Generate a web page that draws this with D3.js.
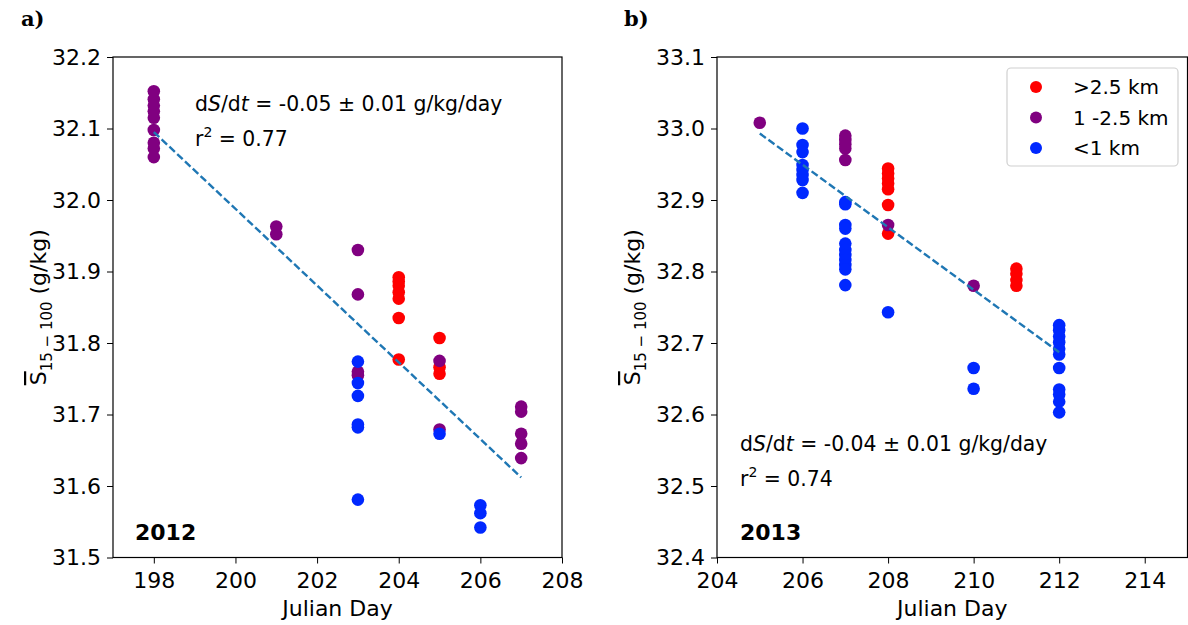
<!DOCTYPE html>
<html><head><meta charset="utf-8">
<script src="https://cdn.jsdelivr.net/npm/d3@7"></script>
<style>body{margin:0;background:#fff;} text{font-family:"DejaVu Sans",sans-serif;}</style>
</head><body><svg id="c" width="1188" height="625"></svg>
<script>
// ---- Data: panel a (2012) ----
const aRed = [[204,31.892],[204,31.886],[204,31.880],[204,31.871],[204,31.862],[204,31.835],[204,31.777],
              [205,31.807],[205,31.766],[205,31.757]];
const aPurple = [[198,32.152],[198,32.141],[198,32.132],[198,32.124],[198,32.115],[198,32.098],[198,32.080],[198,32.072],[198,32.060],
                 [201,31.963],[201,31.952],
                 [203,31.930],[203,31.868],[203,31.760],[203,31.755],
                 [205,31.775],[205,31.679],
                 [207,31.711],[207,31.704],[207,31.673],[207,31.659],[207,31.639]];
const aBlue = [[203,31.774],[203,31.744],[203,31.726],[203,31.686],[203,31.682],[203,31.581],
               [205,31.673],
               [206,31.573],[206,31.562],[206,31.542]];
const aFitDay = [198, 207];
const aFitVal = [32.095, 31.612];
// ---- Data: panel b (2013) ----
const bRed = [[208,32.944],[208,32.937],[208,32.930],[208,32.923],[208,32.915],[208,32.893],[208,32.853],
              [211,32.804],[211,32.797],[211,32.788],[211,32.780]];
const bPurple = [[205,33.008],
                 [207,32.990],[207,32.984],[207,32.978],[207,32.972],[207,32.956],
                 [208,32.865],
                 [210,32.780]];
const bBlue = [[206,33.000],[206,32.977],[206,32.967],[206,32.949],[206,32.942],[206,32.935],[206,32.928],[206,32.910],
               [207,32.897],[207,32.894],[207,32.865],[207,32.860],[207,32.839],[207,32.830],[207,32.823],[207,32.816],[207,32.809],[207,32.803],[207,32.781],
               [208,32.743],
               [210,32.665],[210,32.636],
               [212,32.725],[212,32.718],[212,32.709],[212,32.701],[212,32.692],[212,32.684],[212,32.665],[212,32.635],[212,32.628],[212,32.618],[212,32.603]];
const bFitDay = [205, 212];
const bFitVal = [32.993, 32.687];
// ---- Ticks / labels ----
const aXTicks = [198,200,202,204,206,208];
const aYTicks = [31.5,31.6,31.7,31.8,31.9,32.0,32.1,32.2];
const bXTicks = [204,206,208,210,212,214];
const bYTicks = [32.4,32.5,32.6,32.7,32.8,32.9,33.0,33.1];
const legendLabels = [">2.5 km","1 -2.5 km","<1 km"];
const colors = ["#ff0000","#800080","#0028ff"];

const svg = d3.select("#c");

function panel(o){
  const x = d3.scaleLinear().domain(o.xdom).range([o.x0,o.x1]);
  const y = d3.scaleLinear().domain(o.ydom).range([o.y1,o.y0]);
  const g = svg.append("g");
  const xa = g.append("g").attr("transform",`translate(0,${o.y1})`)
    .call(d3.axisBottom(x).tickValues(o.xt).tickFormat(d3.format("d")).tickSize(6).tickPadding(4));
  const ya = g.append("g").attr("transform",`translate(${o.x0},0)`)
    .call(d3.axisLeft(y).tickValues(o.yt).tickFormat(d3.format(".1f")).tickSize(6).tickPadding(6));
  [xa,ya].forEach(a=>{a.select(".domain").remove();
    a.selectAll("text").attr("font-size",22).attr("fill","#000").style("font-family","DejaVu Sans");
    a.selectAll("line").attr("stroke","#000").attr("stroke-width",1);});
  xa.selectAll("text").attr("dy","0.95em");
  g.append("rect").attr("x",o.x0).attr("y",o.y0).attr("width",o.x1-o.x0).attr("height",o.y1-o.y0)
    .attr("fill","none").attr("stroke","#000").attr("stroke-width",1.2);
  const groups=[o.red,o.purple,o.blue];
  groups.forEach((pts,i)=>{
    g.append("g").selectAll("circle").data(pts).join("circle")
      .attr("cx",d=>x(d[0])).attr("cy",d=>y(d[1])).attr("r",6.3).attr("fill",colors[i]);
  });
  const fit = o.fitDay.map((d,i)=>[d,o.fitVal[i]]);
  g.append("path").attr("d",d3.line().x(d=>x(d[0])).y(d=>y(d[1]))(fit))
    .attr("fill","none").attr("stroke","#1f77b4").attr("stroke-width",2.4).attr("stroke-dasharray","7.5,3.2");
  // annotation
  const t1 = g.append("text").attr("x",o.ax).attr("y",o.ay).attr("font-size",20.4).attr("fill","#000");
  t1.append("tspan").text("d");
  t1.append("tspan").attr("font-style","italic").text("S");
  t1.append("tspan").text("/d");
  t1.append("tspan").attr("font-style","italic").text("t");
  t1.append("tspan").text(` = ${o.slope} ± 0.01 g/kg/day`);
  const t2 = g.append("text").attr("x",o.ax).attr("y",o.ay+35).attr("font-size",20.4).attr("fill","#000");
  t2.append("tspan").text("r");
  t2.append("tspan").attr("font-size",14).attr("dy",-9).text("2");
  t2.append("tspan").attr("dy",9).text(` = ${o.r2}`);
  g.append("text").attr("x",o.yx).attr("y",540).attr("font-size",22).attr("font-weight","bold").attr("fill","#000").text(o.year);
  g.append("text").attr("x",(o.x0+o.x1)/2).attr("y",616).attr("text-anchor","middle").attr("font-size",22).attr("fill","#000").text("Julian Day");
  // y label
  const yl = g.append("text").attr("transform",`translate(${o.ylx},${(o.y0+o.y1)/2}) rotate(-90)`)
    .attr("text-anchor","middle").attr("font-size",22).attr("fill","#000");
  yl.append("tspan").style("text-decoration","overline").text("S");
  yl.append("tspan").attr("font-size",15).attr("dy",6).text("15 − 100");
  yl.append("tspan").attr("dy",-6).text(" (g/kg)");
  g.append("text").attr("x",o.px).attr("y",26).attr("font-size",21).attr("font-weight","bold")
    .style("font-family","DejaVu Serif").attr("fill","#000").text(o.plabel);
  return {x,y,g};
}

panel({xdom:[197,208],ydom:[31.5,32.2],x0:113,x1:562,y0:57,y1:557.5,xt:aXTicks,yt:aYTicks,
  red:aRed,purple:aPurple,blue:aBlue,fitDay:aFitDay,fitVal:aFitVal,
  ax:195,ay:111,slope:"-0.05",r2:"0.77",year:"2012",yx:135,ylx:46,px:21,plabel:"a)"});
panel({xdom:[204,215],ydom:[32.4,33.1],x0:717,x1:1187.5,y0:57,y1:557.5,xt:bXTicks,yt:bYTicks,
  red:bRed,purple:bPurple,blue:bBlue,fitDay:bFitDay,fitVal:bFitVal,
  ax:740,ay:451,slope:"-0.04",r2:"0.74",year:"2013",yx:740,ylx:640,px:624,plabel:"b)"});

// legend
const lg = svg.append("g");
lg.append("rect").attr("x",1007).attr("y",68).attr("width",171).attr("height",98).attr("rx",4)
  .attr("fill","#fff").attr("fill-opacity",0.8).attr("stroke","#d0d0d0").attr("stroke-width",1.2);
legendLabels.forEach((l,i)=>{
  lg.append("circle").attr("cx",1036).attr("cy",87+i*30.5).attr("r",6).attr("fill",colors[i]);
  lg.append("text").attr("x",1073).attr("y",87+i*30.5).attr("dy","0.36em").attr("font-size",20).attr("fill","#000").text(l);
});
</script></body></html>
